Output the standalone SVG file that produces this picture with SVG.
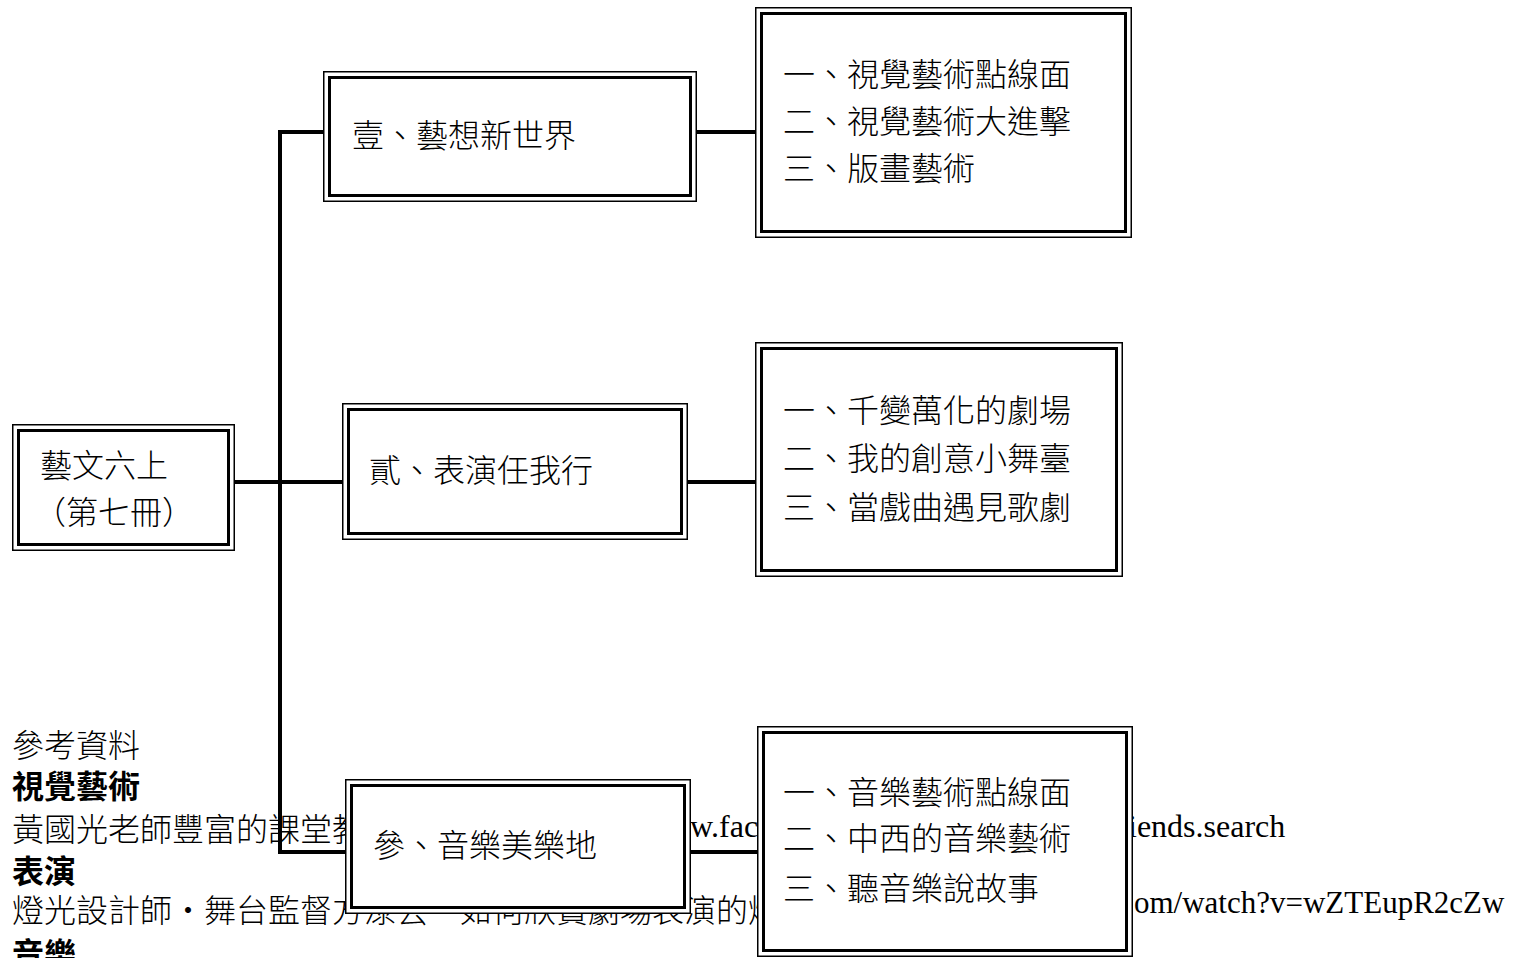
<svg xmlns="http://www.w3.org/2000/svg" width="1517" height="958" viewBox="0 0 1517 958">
<style>
.bg{fill:#fff}
.o{fill:#fff;stroke:#000;stroke-width:1.5}
.i{fill:none;stroke:#000;stroke-width:3}
.t{font-family:"Noto Sans CJK TC","Liberation Serif",sans-serif;font-size:32px;font-weight:300;fill:#000}
.b{font-weight:bold}
.l{font-family:"Liberation Serif","Noto Sans CJK TC",serif;font-size:32px;fill:#000}
.c{fill:none;stroke:#000;stroke-width:4}
</style>
<rect class="bg" x="0" y="0" width="1517" height="958"/>
<g id="references">
<text class="t" x="12" y="757">參考資料</text>
<text class="t b" x="12" y="798">視覺藝術</text>
<text class="t" x="12" y="841">黃國光老師豐富的課堂教</text>
<text class="l" x="690" y="837">w.fac</text>
<text class="l" x="1128" y="837">iends.search</text>
<text class="t b" x="12" y="883">表演</text>
<text class="t" x="12" y="922">燈光設計師・舞台監督方淥芸・如何欣賞劇場表演的燈</text>
<text class="l" x="1134" y="913" style="font-size:31px">om/watch?v=wZTEupR2cZw</text>
<text class="t b" x="12" y="966">音樂</text>
</g>
<g id="connectors">
<path class="c" d="M323 132 H280 V852 H345"/>
<path class="c" d="M235 482 H342"/>
<path class="c" d="M697 132 H755"/>
<path class="c" d="M688 482 H755"/>
<path class="c" d="M691 852 H757"/>
</g>
<g id="root">
<rect class="o" x="12.75" y="424.75" width="221.5" height="125.5"/>
<rect class="i" x="18.5" y="430.5" width="210" height="114"/>
<text class="t" x="40" y="477">藝文六上</text>
<text class="t" x="34" y="524">（第七冊）</text>
</g>
<g id="n1">
<rect class="o" x="323.75" y="71.75" width="372.5" height="129.5"/>
<rect class="i" x="329.5" y="77.5" width="361" height="118"/>
<text class="t" x="352" y="147">壹、藝想新世界</text>
</g>
<g id="n2">
<rect class="o" x="342.75" y="403.75" width="344.5" height="135.5"/>
<rect class="i" x="348.5" y="409.5" width="333" height="124"/>
<text class="t" x="369" y="482">貳、表演任我行</text>
</g>
<g id="n3">
<rect class="o" x="345.75" y="779.75" width="344.5" height="133.5"/>
<rect class="i" x="351.5" y="785.5" width="333" height="122"/>
<text class="t" x="373" y="857">參、音樂美樂地</text>
</g>
<g id="n1sub">
<rect class="o" x="755.75" y="7.75" width="375.5" height="229.5"/>
<rect class="i" x="761.5" y="13.5" width="364" height="218"/>
<text class="t" x="783" y="86">一、視覺藝術點線面</text>
<text class="t" x="783" y="133">二、視覺藝術大進擊</text>
<text class="t" x="783" y="180">三、版畫藝術</text>
</g>
<g id="n2sub">
<rect class="o" x="755.75" y="342.75" width="366.5" height="233.5"/>
<rect class="i" x="761.5" y="348.5" width="355" height="222"/>
<text class="t" x="783" y="422">一、千變萬化的劇場</text>
<text class="t" x="783" y="470">二、我的創意小舞臺</text>
<text class="t" x="783" y="519">三、當戲曲遇見歌劇</text>
</g>
<g id="n3sub">
<rect class="o" x="757.75" y="726.75" width="374.5" height="229.5"/>
<rect class="i" x="763.5" y="732.5" width="363" height="218"/>
<text class="t" x="783" y="804">一、音樂藝術點線面</text>
<text class="t" x="783" y="850">二、中西的音樂藝術</text>
<text class="t" x="783" y="900">三、聽音樂說故事</text>
</g>
</svg>
